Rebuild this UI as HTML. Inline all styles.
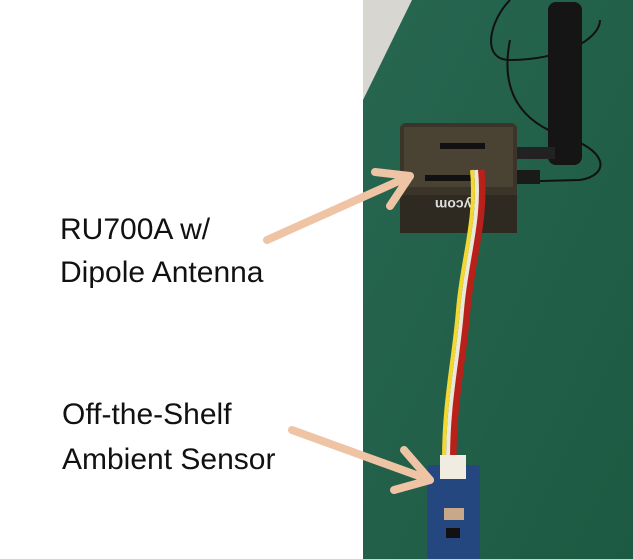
<!DOCTYPE html>
<html><head><style>
html,body{margin:0;padding:0;background:#fff;}
body{width:633px;height:559px;position:relative;overflow:hidden;font-family:"Liberation Sans",sans-serif;}
.t{position:absolute;font-size:30px;color:#111;line-height:1;}
</style></head><body>
<svg width="633" height="559" style="position:absolute;left:0;top:0">
<defs>
<linearGradient id="g" x1="0" y1="0" x2="1" y2="1">
<stop offset="0" stop-color="#276650"/><stop offset="1" stop-color="#1d5a43"/>
</linearGradient>
</defs>
<rect x="363" y="0" width="270" height="559" fill="url(#g)"/>
<polygon points="363,0 412,0 363,100" fill="#d8d6d0"/>
<path d="M510,0 C490,20 480,60 510,60 C560,60 600,40 600,20" fill="none" stroke="#111" stroke-width="2"/>
<path d="M510,40 C500,90 520,120 560,135 C610,150 610,175 580,180 L540,181" fill="none" stroke="#111" stroke-width="2"/>
<rect x="548" y="2" width="34" height="163" rx="8" fill="#151515"/>
<rect x="515" y="147" width="40" height="12" fill="#222"/>
<rect x="510" y="170" width="30" height="14" fill="#1a1a1a"/>
<rect x="400" y="123" width="117" height="110" rx="6" fill="#3a3528"/>
<rect x="404" y="127" width="109" height="60" fill="#4a4333"/>
<rect x="440" y="143" width="45" height="6" fill="#111"/>
<rect x="425" y="175" width="60" height="6" fill="#111"/>
<rect x="400" y="195" width="117" height="38" fill="#2e2a22"/>
<text x="430" y="210" font-size="14" font-weight="bold" fill="#ddd" transform="rotate(180 455 205)" font-family="Liberation Sans">pycom</text>
<path d="M480,170 C485,220 470,260 466,310 C462,360 452,400 452,460" fill="none" stroke="#b8201a" stroke-width="9"/>
<path d="M476,170 C481,220 466,260 462,310 C458,360 448,400 448,460" fill="none" stroke="#eae8da" stroke-width="4"/>
<path d="M472,170 C477,220 462,260 458,310 C454,360 444,400 444,460" fill="none" stroke="#f2d830" stroke-width="4"/>
<rect x="427" y="465" width="53" height="94" rx="3" fill="#23477e"/>
<rect x="440" y="455" width="26" height="24" fill="#f0ece2"/>
<rect x="444" y="508" width="20" height="12" fill="#c8a888"/>
<rect x="446" y="528" width="14" height="10" fill="#111"/>
<g stroke="#efc4a4" stroke-width="8" stroke-linecap="round" stroke-linejoin="round" fill="none">
<line x1="267" y1="240" x2="410" y2="176"/>
<polyline points="375,172 410,176 390,206"/>
<line x1="292" y1="430" x2="430" y2="480"/>
<polyline points="404,450 430,480 394,490"/>
</g>
</svg>
<div class="t" style="left:60px;top:215px">RU700A w/</div>
<div class="t" style="left:60px;top:258px">Dipole Antenna</div>
<div class="t" style="left:62px;top:400px">Off-the-Shelf</div>
<div class="t" style="left:62px;top:445px">Ambient Sensor</div>
</body></html>
